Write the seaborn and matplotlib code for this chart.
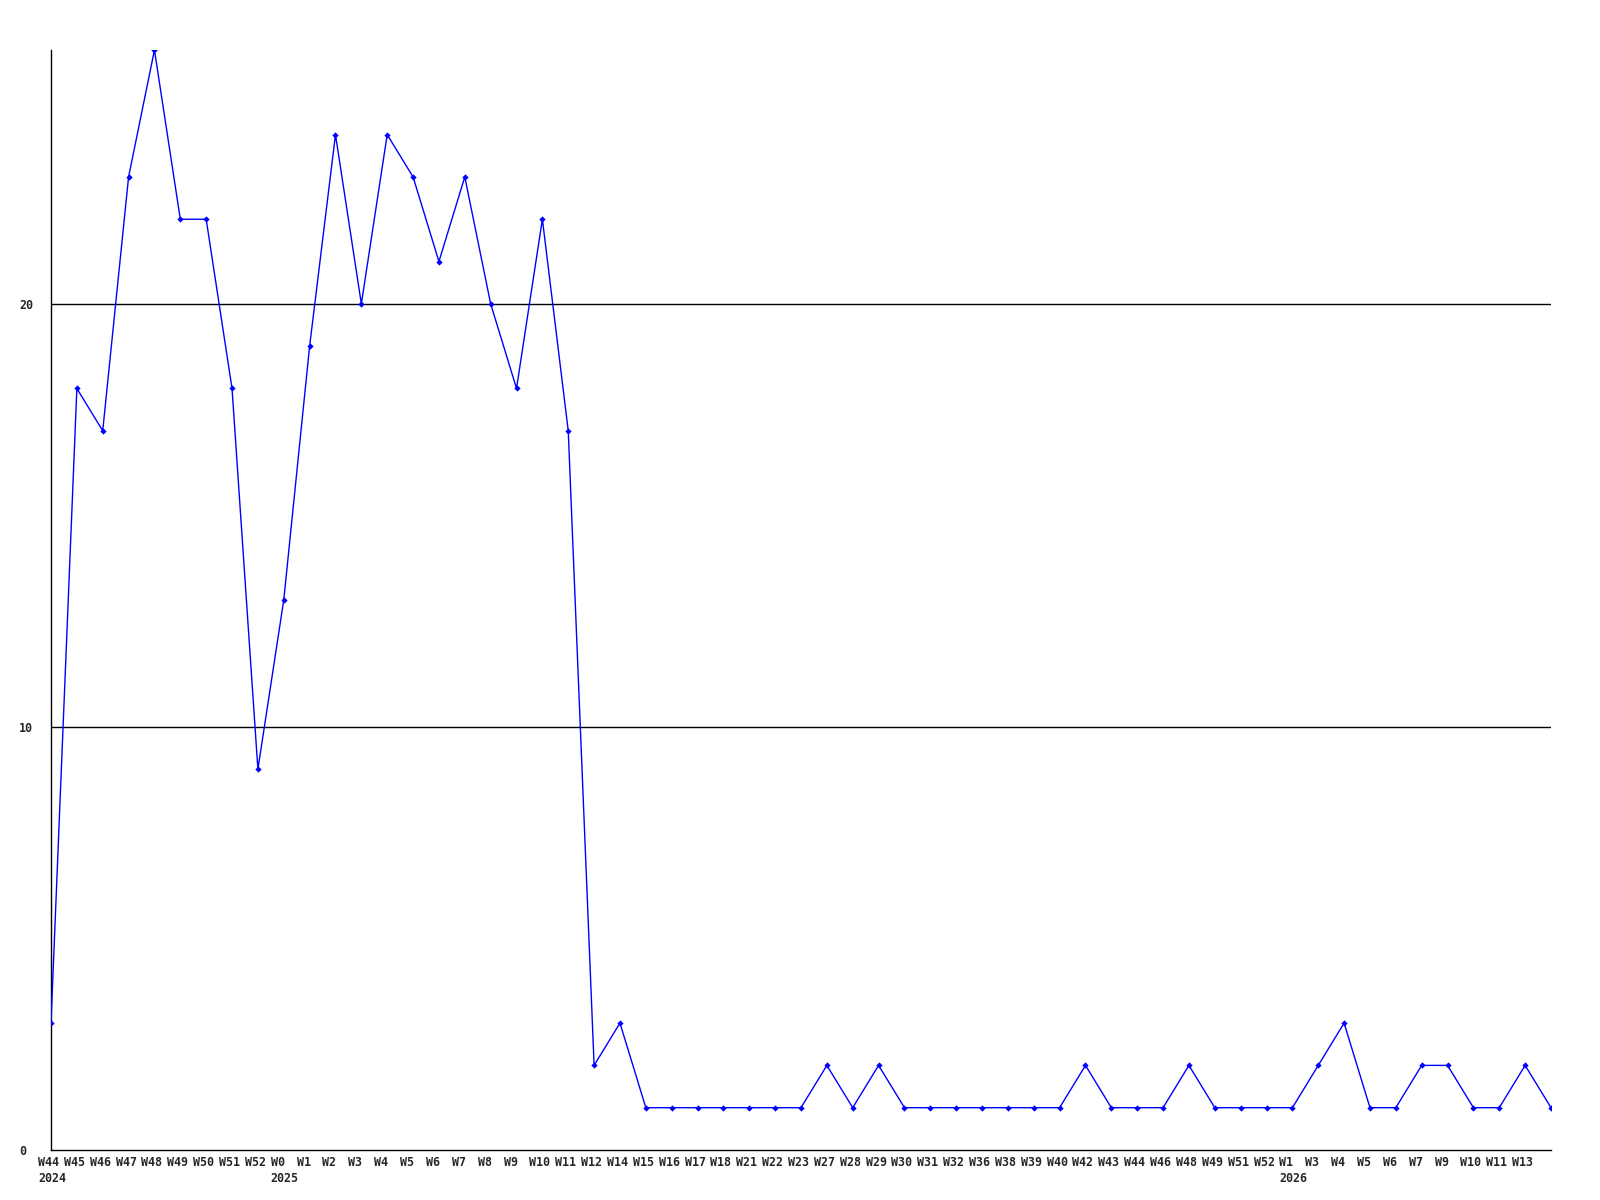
import matplotlib
matplotlib.use("Agg")
import matplotlib.pyplot as plt
import matplotlib.transforms as mtransforms
import seaborn as sns
import pandas as pd

weeks = ["W44", "W45", "W46", "W47", "W48", "W49", "W50", "W51", "W52",
         "W0", "W1", "W2", "W3", "W4", "W5", "W6", "W7", "W8", "W9", "W10", "W11", "W12",
         "W14", "W15", "W16", "W17", "W18", "W21", "W22", "W23", "W27", "W28", "W29",
         "W30", "W31", "W32", "W36", "W38", "W39", "W40", "W42", "W43", "W44", "W46",
         "W48", "W49", "W51", "W52",
         "W1", "W3", "W4", "W5", "W6", "W7", "W9", "W10", "W11", "W13", ""]
years = ["2024", "", "", "", "", "", "", "", "",
         "2025", "", "", "", "", "", "", "", "", "", "", "", "",
         "", "", "", "", "", "", "", "", "", "", "",
         "", "", "", "", "", "", "", "", "", "", "",
         "", "", "", "",
         "2026", "", "", "", "", "", "", "", "", "", ""]
values = [3, 18, 17, 23, 26, 22, 22, 18, 9,
          13, 19, 24, 20, 24, 23, 21, 23, 20, 18, 22, 17, 2,
          3, 1, 1, 1, 1, 1, 1, 1, 2, 1, 2,
          1, 1, 1, 1, 1, 1, 1, 2, 1, 1, 1,
          2, 1, 1, 1,
          1, 2, 3, 1, 1, 2, 2, 1, 1, 2, 1]
y_ticks = [0, 10, 20]

df = pd.DataFrame({"pos": range(len(values)), "value": values})

sns.set_style("white")
plt.rcParams["font.family"] = ["DejaVu Sans Mono", "DejaVu Sans"]

fig = plt.figure(figsize=(16, 12), dpi=100)
ax = fig.add_axes([51 / 1600, 1 - 1150 / 1200, 1500 / 1600, 1100 / 1200])

for t in y_ticks[1:]:
    ax.axhline(t, color="black", linewidth=1.0, zorder=1)

sns.lineplot(data=df, x="pos", y="value", ax=ax, color="#0000ff", linewidth=1.0,
             marker="D", markersize=3.2, markeredgewidth=0, zorder=3)

ax.set_xlim(0, len(values) - 1)
ax.set_ylim(0, 26)
ax.set_xlabel("")
ax.set_ylabel("")

for s in ["top", "right"]:
    ax.spines[s].set_visible(False)
for s in ["left", "bottom"]:
    ax.spines[s].set_color("black")
    ax.spines[s].set_linewidth(1.0)

labels = [w + ("\n" + y if y else "") for w, y in zip(weeks, years)]
ax.set_xticks(range(len(values)))
ax.set_xticklabels(labels, fontsize=8.4, fontweight="bold", ha="left",
                   linespacing=1.35, va="top")
ax.set_yticks(y_ticks)
ax.set_yticklabels([str(t) for t in y_ticks], fontsize=8.4, fontweight="bold", ha="left")
ax.tick_params(axis="both", length=0, pad=0)

offx = mtransforms.ScaledTranslation(-13 / 100, -6 / 100, fig.dpi_scale_trans)
for lab in ax.get_xticklabels():
    lab.set_transform(lab.get_transform() + offx)
offy = mtransforms.ScaledTranslation(-32 / 100, 0, fig.dpi_scale_trans)
for lab in ax.get_yticklabels():
    lab.set_transform(lab.get_transform() + offy)

fig.savefig("out.png", dpi=100, facecolor="white")
